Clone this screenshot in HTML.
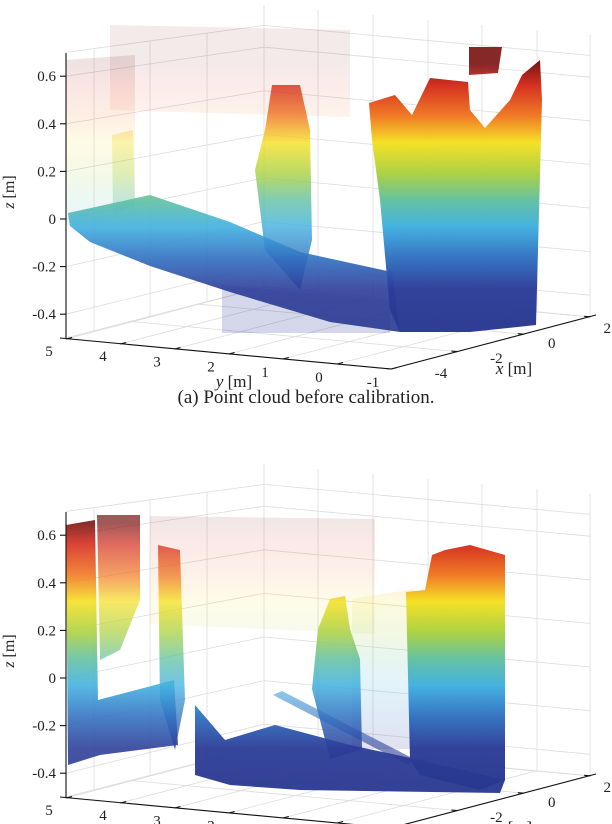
<!DOCTYPE html>
<html><head><meta charset="utf-8">
<style>
html,body{margin:0;padding:0;background:#fff;}
svg{display:block;}
text{font-family:"Liberation Serif",serif;fill:#222;}
</style></head>
<body>
<svg id="fig" width="612" height="824" viewBox="0 0 612 824" xmlns="http://www.w3.org/2000/svg">
<defs>
<linearGradient id="jet0" gradientUnits="userSpaceOnUse" x1="0" y1="64" x2="0" y2="326">
<stop offset="0" stop-color="#7a1010"/><stop offset="0.08" stop-color="#d42a1a"/><stop offset="0.2" stop-color="#f07820"/><stop offset="0.3" stop-color="#f5e020"/><stop offset="0.42" stop-color="#a8d040"/><stop offset="0.52" stop-color="#60c0a0"/><stop offset="0.62" stop-color="#40b0e0"/><stop offset="0.74" stop-color="#3070c0"/><stop offset="0.86" stop-color="#2c3c98"/><stop offset="1" stop-color="#283890"/>
</linearGradient>
</defs>
</svg>
<script>
const zTicks = [0.6, 0.4, 0.2, 0, -0.2, -0.4];
const zTickLabels = ['0.6', '0.4', '0.2', '0', '-0.2', '-0.4'];
const yTicks = [5, 4, 3, 2, 1, 0, -1];
const xTicks = [-4, -2, 0, 2];
const panelOffsets = [0, 459];
// point-cloud structures: [name, opacity, polygon points in panel-local pixels]
const topClouds = [
 ['left-sparse-column',0.12,[[66,60],[135,55],[135,215],[66,225]]],
 ['top-sparse-dots',0.09,[[110,25],[350,30],[350,117],[110,110]]],
 ['left-green-column',0.3,[[112,135],[133,130],[135,205],[113,215]]],
 ['floor-sparse-under',0.2,[[222,285],[390,300],[390,333],[222,333]]],
 ['floor-band',0.9,[[68,213],[150,195],[230,222],[300,252],[392,272],[400,332],[330,322],[230,292],[150,266],[90,242],[70,226]]],
 ['middle-column',0.8,[[272,85],[300,85],[310,130],[312,240],[300,290],[265,250],[255,170],[265,130]]],
 ['right-wall',0.97,[[369,103],[395,95],[412,115],[430,78],[468,82],[470,110],[485,128],[510,100],[522,75],[540,60],[542,100],[536,325],[470,332],[400,332],[390,310],[380,200],[372,140]]],
 ['red-block',0.9,[[469,47],[502,47],[498,73],[469,75]]]
];
const bottomClouds = [
 ['top-sparse-band',0.1,[[150,57],[375,60],[375,175],[150,165]]],
 ['gap-sparse-dots',0.15,[[352,140],[414,130],[414,290],[352,290]]],
 ['left-column-a',0.88,[[66,66],[95,61],[98,241],[174,221],[178,286],[100,296],[68,306]]],
 ['left-column-b',0.7,[[97,56],[140,56],[140,141],[120,191],[100,201]]],
 ['left-column-c',0.75,[[158,86],[180,91],[185,241],[175,291],[160,241]]],
 ['floor-cluster',0.95,[[195,246],[225,281],[275,266],[350,286],[420,301],[505,321],[500,334],[300,331],[230,326],[195,316]]],
 ['diagonal-stripe',0.6,[[273,236],[282,232],[414,300],[408,306]]],
 ['center-column',0.85,[[330,140],[345,137],[350,170],[360,200],[362,290],[330,300],[312,230],[318,170]]],
 ['right-wall',0.97,[[406,133],[425,131],[432,96],[445,91],[470,86],[505,96],[505,321],[480,331],[420,316],[410,301]]]
];

const svg = document.getElementById('fig');
const NS = 'http://www.w3.org/2000/svg';
function mk(tag, attrs, parent){const e=document.createElementNS(NS,tag);for(const k in attrs)e.setAttribute(k,attrs[k]);(parent||svg).appendChild(e);return e;}
function zFront(z){return 219-238*z;}
function zBackCorner(z){return 178-218*z;}
function zRight(z){return 208-218*z;}
function yTickPos(v){return [49+(5-v)*54, 351+(5-v)*5.2];}
function yAxisPt(v){return [66+(5-v)*54.2, 339+(5-v)*5];}
function xTickPos(v){return [441+(v+4)*27.7, 373-(v+4)*7.5];}
function xAxisPt(v){return [391+(v+4)*33.2, 369-(v+4)*8.7];}

function panel(p){
  const off = panelOffsets[p];
  const g = mk('g',{transform:'translate(0,'+off+')'});
  
  
  const grid = mk('g',{stroke:'#dcdcdc','stroke-width':'0.8',fill:'none'},g);
  
  
  [0.7,0.6,0.4,0.2,0,-0.2,-0.4,-0.5].forEach(z=>{
    mk('line',{x1:66,y1:zFront(z),x2:264,y2:zBackCorner(z)},grid);
    mk('line',{x1:264,y1:zBackCorner(z),x2:590,y2:zRight(z)},grid);
  });
  [94,150,207].forEach(x=>{const t=(x-66)/198;mk('line',{x1:x,y1:53-28*t,x2:x,y2:339-52*t},grid);});
  mk('line',{x1:264,y1:5,x2:264,y2:287},grid);
  [318,373,428,482,537,590].forEach(x=>{const t=(x-264)/326;mk('line',{x1:x,y1:5+30*t,x2:x,y2:287+30*t},grid);});
  yTicks.forEach(v=>{const a=yAxisPt(v);mk('line',{x1:a[0],y1:a[1],x2:a[0]+199,y2:a[1]-52},grid);});
  xTicks.forEach(v=>{const a=xAxisPt(v);mk('line',{x1:a[0],y1:a[1],x2:a[0]-325,y2:a[1]-30},grid);});

  const clouds = mk('g',{},g);
  
  
  (p===0?topClouds:bottomClouds).forEach(c=>{
    const pts=c[2].map(q=>q[0]+','+q[1]).join(' ');
    const poly=mk('polygon',{points:pts,fill:'url(#jet0)',opacity:c[1]},clouds);
    
    
  });

  const ax = mk('g',{stroke:'#111','stroke-width':'1.1',fill:'none'},g);
  
  
  mk('line',{x1:66,y1:53,x2:66,y2:339},ax);
  mk('line',{x1:60,y1:338,x2:391,y2:369},ax);
  mk('line',{x1:391,y1:369,x2:596,y2:315},ax);
  zTicks.forEach(z=>mk('line',{x1:60,y1:zFront(z),x2:66,y2:zFront(z)},ax));
  yTicks.forEach(v=>{const a=yAxisPt(v);mk('line',{x1:a[0],y1:a[1],x2:a[0]+6,y2:a[1]-1.5},ax);});
  xTicks.forEach(v=>{const a=xAxisPt(v);mk('line',{x1:a[0],y1:a[1],x2:a[0]-6,y2:a[1]-0.5},ax);});

  zTicks.forEach((z,i)=>{const t=mk('text',{x:56,y:zFront(z)+5,'text-anchor':'end','font-size':'15'},g);t.textContent=zTickLabels[i];
    
    });
  yTicks.forEach(v=>{const a=yTickPos(v);const t=mk('text',{x:a[0],y:a[1]+5,'text-anchor':'middle','font-size':'15'},g);t.textContent=String(v);
    
    });
  xTicks.forEach(v=>{const a=xTickPos(v);const t=mk('text',{x:a[0],y:a[1]+5,'text-anchor':'middle','font-size':'15'},g);t.textContent=String(v);
    
    });

  const zl=mk('text',{x:0,y:0,'text-anchor':'middle','font-size':'16',transform:'translate(14,192) rotate(-90)'},g);
  zl.innerHTML='<tspan font-style="italic">z</tspan> [m]';
  
  
  const yl=mk('text',{x:234,y:387,'text-anchor':'middle','font-size':'17'},g);
  yl.innerHTML='<tspan font-style="italic">y</tspan> [m]';
  
  
  const xl=mk('text',{x:514,y:374,'text-anchor':'middle','font-size':'17'},g);
  xl.innerHTML='<tspan font-style="italic">x</tspan> [m]';
  
  
}
panel(0);
panel(1);
const cap=mk('text',{x:306,y:403,'text-anchor':'middle','font-size':'19'});
cap.textContent='(a) Point cloud before calibration.';


</script>
</body></html>
